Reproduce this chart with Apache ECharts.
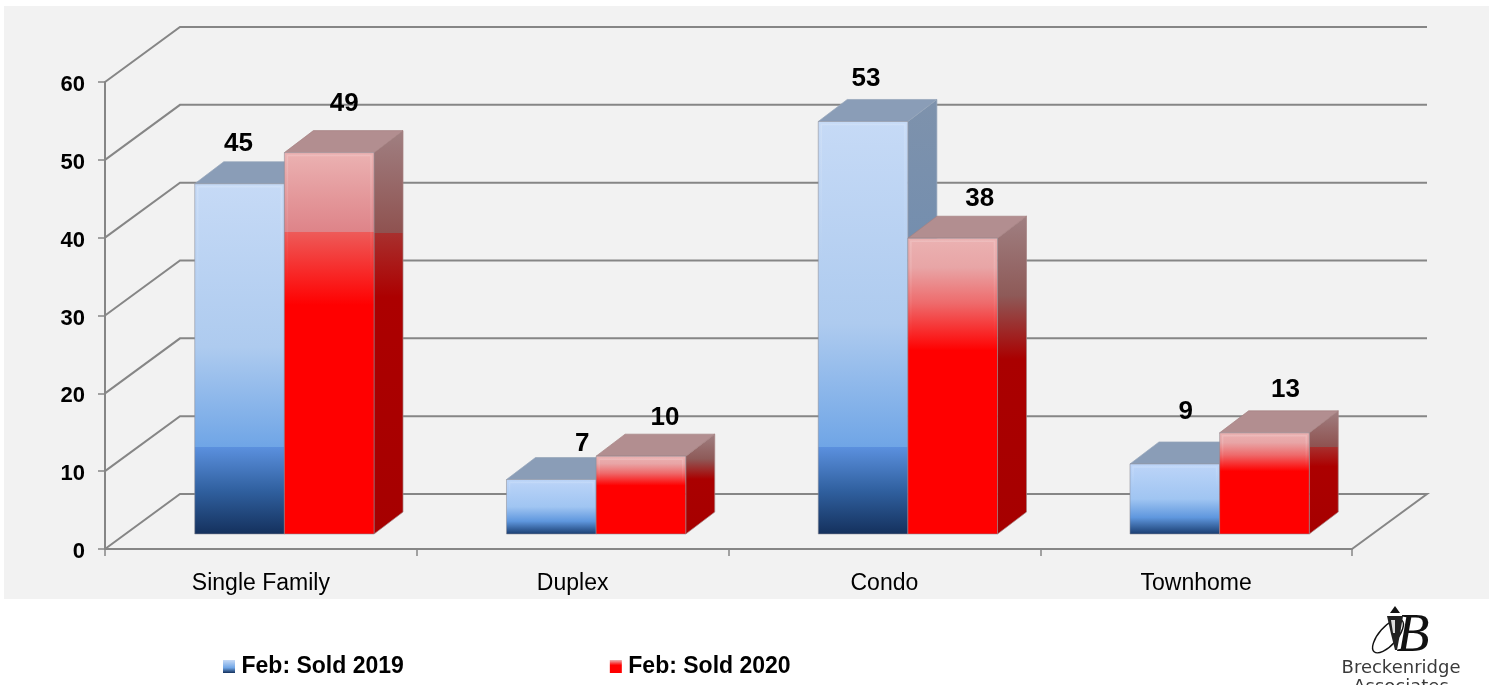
<!DOCTYPE html>
<html><head><meta charset="utf-8">
<style>html,body{margin:0;padding:0;background:#fff}#c{width:1489px;height:685px}</style>
<script src="https://cdn.jsdelivr.net/npm/echarts@6/dist/echarts.min.js"></script>
</head><body><div id="c"></div>
<script>
const categories = ['Single Family','Duplex','Condo','Townhome'];
const sold2019 = [45,7,53,9];
const sold2020 = [49,10,38,13];
const yTicks = [0,10,20,30,40,50,60];
const seriesNames = ['Feb: Sold 2019','Feb: Sold 2020'];

const FONT = '"Liberation Sans", Arial, sans-serif';
const LINE = '#868686';
const WALL = {dx:75, dy:-55};
const BAR = {bandShare:0.2875, dx:23.5, dy:-15, depthX:29, depthY:-22};
// hand-placed data label nudges from the back-top centre of each bar
const nudge2019 = [[-1,-18],[31,-14],[3,-21],[11,-30]];
const nudge2020 = [[15,-27],[24,-16],[27,-17],[21,-21]];
// the reference's gradient has a hard band at a fixed height on tall bars
const BLUE_BAND = 11.2, RED_BAND = 38.7;

const grad = (stops)=>({type:'linear',x:0,y:0,x2:0,y2:1,
  colorStops:stops.map(s=>({offset:s[0],color:s[1]}))});

function frontFill(idx, v){
  if (idx===0){
    if (v>BLUE_BAND){
      const f=(v-BLUE_BAND)/v;
      return grad([[0,'#C6DAF6'],[f*0.62,'#AECBEF'],[f,'#6FA5E6'],[f,'#5B90DE'],[f+(1-f)*0.5,'#30609F'],[1,'#14305C']]);
    }
    return grad([[0,'#BDD5F8'],[0.5,'#A0C5F2'],[0.76,'#5F97DE'],[1,'#183B6E']]);
  }
  if (v>RED_BAND){
    const f=(v-RED_BAND)/v;
    return grad([[0,'#EBB2B2'],[f,'#DE8388'],[f,'#EE5A58'],[0.4,'#FF0000'],[1,'#FF0000']]);
  }
  return grad([[0,'#EBB2B2'],[0.1,'#E8A5A6'],[0.22,'#EE6B6C'],[0.38,'#FF0000'],[1,'#FF0000']]);
}
function sideFill(idx, v, yT, yB, yOf){
  if (idx===0) return grad([[0,'#7E92AC'],[0.6,'#6C8BB0'],[1,'#2E4F80']]);
  const top=yT+BAR.depthY, h=yB-top;
  const band = v>RED_BAND ? RED_BAND : (v>BLUE_BAND && v<20 ? BLUE_BAND : null);
  if (band!==null){
    const f=(yOf(band)-top)/h;
    return grad([[0,'#A08082'],[f,'#8F5250'],[f,'#A8302E'],[Math.min(f+0.16,0.62),'#AC0000'],[1,'#A60000']]);
  }
  return grad([[0,'#A08082'],[0.25,'#8E5A58'],[0.45,'#AA0000'],[1,'#A60000']]);
}
const topFill=['#8A9DB7','#B28E90'];
const edge=['rgba(150,165,185,0.7)','rgba(165,130,130,0.7)'];

function wallItem(params, api){
  const cs = params.coordSys;
  const y = api.coord([0, api.value(0)])[1];
  const pts = [[cs.x,y],[cs.x+WALL.dx,y+WALL.dy],[cs.x+cs.width+WALL.dx,y+WALL.dy]];
  if (api.value(0)===yTicks[0]) pts.push([cs.x+cs.width,y]);
  return {type:'polyline',shape:{points:pts},silent:true,
    style:{fill:null,stroke:LINE,lineWidth:2}};
}
function barMaker(idx, nudges){
  return function(params, api){
    const i = api.value(0), v = api.value(1);
    const band = api.size([1,0])[0], w = band*BAR.bandShare;
    const p = api.coord([i,v]), p0 = api.coord([i,0]);
    const xL = p[0]+BAR.dx+(idx===0?-w:0), xR = xL+w;
    const yT = p[1]+BAR.dy, yB = p0[1]+BAR.dy;
    const dx = BAR.depthX, dy = BAR.depthY;
    const n = nudges[i];
    const yOf = (val)=>api.coord([i,val])[1]+BAR.dy;
    return {type:'group',children:[
      {type:'polygon',shape:{points:[[xR,yT],[xR+dx,yT+dy],[xR+dx,yB+dy],[xR,yB]]},
        style:{fill:sideFill(idx,v,yT,yB,yOf),stroke:edge[idx],lineWidth:1}},
      {type:'polygon',shape:{points:[[xL,yT],[xL+dx,yT+dy],[xR+dx,yT+dy],[xR,yT]]},
        style:{fill:topFill[idx],stroke:edge[idx],lineWidth:1}},
      {type:'rect',shape:{x:xL,y:yT,width:w,height:yB-yT},
        style:{fill:frontFill(idx,v),stroke:'rgba(140,140,150,0.55)',lineWidth:1}},
      {type:'rect',shape:{x:xL+3,y:yT+3,width:w-6,height:yB-yT-6},
        style:{fill:null,lineWidth:1.5,stroke:grad([[0,'rgba(255,255,255,0.16)'],[0.35,'rgba(255,255,255,0)'],[1,'rgba(255,255,255,0)']])}},
      {type:'text',z2:50,style:{x:(xL+xR)/2+n[0],y:yT+dy+n[1],text:String(v),
        align:'center',verticalAlign:'middle',fill:'#000',font:'bold 26px '+FONT}}
    ]};
  };
}

const chart = echarts.init(document.getElementById('c'),null,{renderer:'canvas',width:1489,height:685});
chart.setOption({
  animation:false,
  backgroundColor:'#ffffff',
  grid:{left:105,top:82,width:1247,height:467,containLabel:false},
  legend:{
    left:218,top:650,itemWidth:12,itemHeight:13,itemGap:206,icon:'rect',selectedMode:false,
    textStyle:{fontFamily:FONT,fontWeight:'bold',fontSize:23,color:'#000',padding:[0,0,0,1.5]},
    data:[
      {name:seriesNames[0],itemStyle:{color:new echarts.graphic.LinearGradient(0,0,0,1,[
        {offset:0,color:'#C6DAF6'},{offset:0.6,color:'#6FA5E6'},{offset:1,color:'#14305C'}])}},
      {name:seriesNames[1],itemStyle:{color:new echarts.graphic.LinearGradient(0,0,0,1,[
        {offset:0,color:'#EBB2B2'},{offset:0.4,color:'#FF0000'},{offset:1,color:'#FF0000'}])}}
    ]
  },
  xAxis:{type:'category',data:categories,boundaryGap:true,
    axisLine:{show:true,lineStyle:{color:LINE,width:2}},
    axisTick:{show:true,length:7,alignWithLabel:false,lineStyle:{color:LINE,width:1.5}},
    axisLabel:{color:'#000',fontFamily:FONT,fontSize:23,margin:23},
    splitLine:{show:false}},
  yAxis:{type:'value',min:0,max:60,interval:10,
    axisLine:{show:true,lineStyle:{color:LINE,width:2}},
    axisTick:{show:true,length:7,lineStyle:{color:LINE,width:1.5}},
    axisLabel:{color:'#000',fontFamily:FONT,fontSize:22,fontWeight:'bold',margin:20,verticalAlign:'top',lineHeight:6},
    splitLine:{show:false}},
  series:[
    {type:'custom',name:'walls',coordinateSystem:'cartesian2d',z:1,silent:true,clip:false,
      renderItem:wallItem,encode:{y:0},data:yTicks.map(v=>[v])},
    {type:'custom',name:seriesNames[0],coordinateSystem:'cartesian2d',z:3,clip:false,
      renderItem:barMaker(0,nudge2019),encode:{x:0,y:1},
      itemStyle:{color:'#6FA5E6'},
      data:sold2019.map((v,i)=>[i,v])},
    {type:'custom',name:seriesNames[1],coordinateSystem:'cartesian2d',z:4,clip:false,
      renderItem:barMaker(1,nudge2020),encode:{x:0,y:1},
      itemStyle:{color:'#FF0000'},
      data:sold2020.map((v,i)=>[i,v])}
  ],
  graphic:{elements:[
    {type:'rect',z:-10,silent:true,shape:{x:4,y:6,width:1485,height:593},style:{fill:'#F2F2F2'}},
    // logo
    {type:'text',z:5,silent:true,style:{x:1401,y:668,text:'Breckenridge',align:'center',verticalAlign:'middle',
      fill:'#3a3a3a',font:'18px "DejaVu Sans", sans-serif'}},
    {type:'text',z:5,silent:true,style:{x:1401,y:687,text:'Associates',align:'center',verticalAlign:'middle',
      fill:'#3a3a3a',font:'18px "DejaVu Sans", sans-serif'}},
    {type:'text',z:5,silent:true,style:{x:1413,y:637,text:'B',align:'center',verticalAlign:'middle',
      fill:'#111',font:'italic 54px "Liberation Serif", serif'}},
    {type:'ellipse',z:5,silent:true,rotation:0.85,x:1388,y:636,shape:{cx:0,cy:0,rx:21,ry:9},
      style:{fill:null,stroke:'#111',lineWidth:1.4}},
    {type:'polygon',z:6,silent:true,shape:{points:[[1395,606],[1400,613],[1390,613]]},style:{fill:'#111'}},
    {type:'polygon',z:6,silent:true,shape:{points:[[1387,616],[1403,616],[1400,634],[1397,650],[1395,650],[1391,634]]},
      style:{fill:'#222'}},
    {type:'polygon',z:6,silent:true,shape:{points:[[1391,620],[1395,620],[1395,633],[1393,633]]},style:{fill:'#ddd'}}
  ]}
});
</script></body></html>
